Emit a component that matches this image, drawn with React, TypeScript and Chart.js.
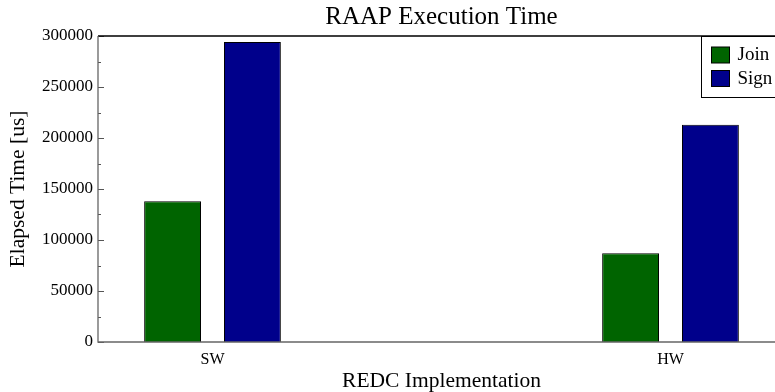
import React, { useEffect, useRef } from "react";
import { Chart, registerables } from "chart.js";

Chart.register(...registerables);

const categories = ["SW", "HW"];
const seriesNames = ["Join", "Sign"];
const joinValues = [138000, 87000];
const signValues = [294000, 213000];
const seriesColors = ["#006400", "#00008b"];
const yTicks = [0, 50000, 100000, 150000, 200000, 250000, 300000];

const FONT = "'Liberation Serif', serif";

const framePlugin = {
  id: "frameTicks",
  afterDatasetsDraw(chart: any) {
    const { ctx, chartArea } = chart;
    const y = chart.scales.y;
    ctx.save();
    ctx.strokeStyle = "#555";
    ctx.lineWidth = 1;
    for (let v = 0; v <= 300000; v += 25000) {
      const py = Math.round(y.getPixelForValue(v)) + 0.5;
      const len = v % 50000 === 0 ? 6 : 3;
      ctx.beginPath();
      ctx.moveTo(chartArea.left, py);
      ctx.lineTo(chartArea.left + len, py);
      ctx.stroke();
    }
    ctx.lineWidth = 1.3;
    ctx.strokeStyle = "#000";
    ctx.beginPath();
    ctx.moveTo(chartArea.left, chartArea.top);
    ctx.lineTo(chartArea.right, chartArea.top);
    ctx.lineTo(chartArea.right, chartArea.bottom);
    ctx.stroke();
    ctx.strokeStyle = "#666";
    ctx.beginPath();
    ctx.moveTo(chartArea.left, chartArea.top);
    ctx.lineTo(chartArea.left, chartArea.bottom);
    ctx.lineTo(chartArea.right, chartArea.bottom);
    ctx.stroke();

    const ds = chart.data.datasets;
    const bx = 701.5;
    const by = Math.round(chartArea.top) + 0.5;
    const bw = 95;
    const bh = 61;
    ctx.fillStyle = "#fff";
    ctx.fillRect(bx, by, bw, bh);
    ctx.strokeStyle = "#000";
    ctx.lineWidth = 1;
    ctx.strokeRect(bx, by, bw, bh);
    ctx.font = "19px " + FONT;
    ctx.textBaseline = "middle";
    ds.forEach((d: any, i: number) => {
      const ry = by + 10.5 + i * 23.5;
      ctx.fillStyle = d.backgroundColor;
      ctx.fillRect(bx + 10, ry, 18, 16);
      ctx.strokeStyle = "#000";
      ctx.strokeRect(bx + 10, ry, 18, 16);
      ctx.fillStyle = "#000";
      ctx.fillText(d.label, bx + 36, ry + 8.5);
    });
    ctx.restore();
  },
};

export default function App() {
  const ref = useRef<HTMLCanvasElement>(null);
  useEffect(() => {
    if (!ref.current) return;
    const values = [joinValues, signValues];
    const chart = new Chart(ref.current, {
      type: "bar",
      data: {
        datasets: seriesNames.map((name, i) => ({
          label: name,
          data: categories.map((_, j) => ({ x: j, y: values[i][j] })),
          backgroundColor: seriesColors[i],
          borderColor: "#000",
          borderWidth: 1,
          categoryPercentage: 160 / 459,
          barPercentage: 57 / 80,
        })),
      },
      options: {
        animation: false,
        responsive: false,
        maintainAspectRatio: false,
        layout: { padding: 0 },
        plugins: {
          legend: { display: false },
          tooltip: { enabled: false },
          title: {
            display: true,
            text: "RAAP Execution Time",
            color: "#000",
            font: { family: FONT, size: 25, weight: "normal", lineHeight: 1.2 },
            padding: { top: 2, bottom: 4 },
          },
        },
        scales: {
          x: {
            type: "linear",
            min: -0.25,
            max: 1.25,
            offset: false,
            afterBuildTicks: (s: any) => {
              s.ticks = categories.map((_, j) => ({ value: j }));
            },
            afterFit: (s: any) => {
              s.height = 50;
            },
            grid: { display: false, drawTicks: false, offset: false },
            border: { display: false },
            ticks: {
              callback: (v: any) => categories[v] ?? "",
              color: "#000",
              font: { family: FONT, size: 16 },
              padding: 8,
              maxRotation: 0,
              autoSkip: false,
            },
            title: {
              display: true,
              text: "REDC Implementation",
              color: "#000",
              font: { family: FONT, size: 21.5, lineHeight: 1.0 },
              padding: { top: 2, bottom: 0 },
            },
          },
          y: {
            min: 0,
            max: 300000,
            afterBuildTicks: (s: any) => {
              s.ticks = yTicks.map((v) => ({ value: v }));
            },
            afterFit: (s: any) => {
              s.width = 98;
            },
            grid: { display: false, drawTicks: false },
            border: { display: false },
            ticks: {
              color: "#000",
              font: { family: FONT, size: 17 },
              padding: 5,
              callback: (v: any) => String(v),
            },
            title: {
              display: true,
              text: "Elapsed Time [us]",
              color: "#000",
              font: { family: FONT, size: 21.5 },
              padding: { top: 5, bottom: 0 },
            },
          },
          yR: {
            type: "linear",
            position: "right",
            display: true,
            min: 0,
            max: 1,
            afterFit: (s: any) => {
              s.width = 98;
            },
            grid: { display: false, drawTicks: false },
            border: { display: false },
            ticks: { display: false },
          },
        },
      },
      plugins: [framePlugin],
    });
    return () => chart.destroy();
  }, []);
  return (
    <div
      style={{
        position: "fixed",
        left: 0,
        top: 0,
        width: 775,
        height: 392,
        overflow: "hidden",
        background: "#fff",
      }}
    >
      <canvas ref={ref} width={883} height={392} style={{ display: "block", width: 883, height: 392 }} />
    </div>
  );
}
